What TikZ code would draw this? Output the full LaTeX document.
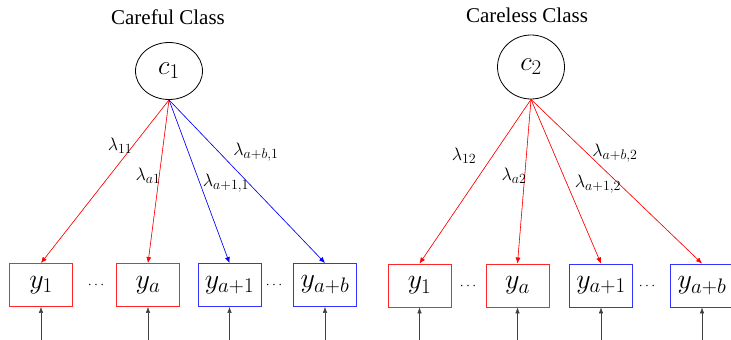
\documentclass[tikz,border=0pt]{standalone}
\usepackage{fix-cm}
\usepackage{fontspec}
\setmainfont{Liberation Serif}
\DeclareMathSizes{18}{18}{14}{11}
\DeclareMathSizes{28}{28}{21}{16}
\DeclareMathSizes{27}{27}{21}{16}
\usetikzlibrary{shapes.geometric,arrows.meta}
\definecolor{myred}{RGB}{255,0,0}
\definecolor{myblue}{RGB}{0,0,255}
\begin{document}
\begin{tikzpicture}[x=1pt,y=-1pt,
  latent/.style={draw=black,ellipse,line width=0.8pt,inner sep=0pt,minimum width=67pt},
  obsbox/.style={draw,line width=0.9pt,minimum width=63pt,minimum height=43pt,inner sep=0pt,font=\fontsize{28}{30}\selectfont},
  redbox/.style={obsbox,draw=myred!85},
  bluebox/.style={obsbox,draw=myblue!80},
  load/.style={line width=0.6pt,-{Latex[length=6pt,width=5pt]}},
  redarr/.style={load,draw=myred,fill=myred},
  bluearr/.style={load,draw=myblue,fill=myblue},
  errarr/.style={line width=0.5pt,draw=black!75,-{Latex[length=6pt,width=4.5pt]}},
  lab/.style={inner sep=0pt,font=\fontsize{18}{20}\selectfont},
  title/.style={inner sep=0pt,font=\fontsize{21}{23}\selectfont},
  dots/.style={inner sep=0pt,font=\fontsize{14}{16}\selectfont}
]
\useasboundingbox (0,0) rectangle (731,340);
% titles
\node[title] (t1) at (168,17) {Careful Class};
\node[title] (t2) at (527,15) {Careless Class};
% latent nodes
\node[latent,minimum height=57pt] (c1) at (169,71) {\fontsize{27}{29}\selectfont$c_1$};
\node[latent,minimum height=64pt] (c2) at (531,67) {\fontsize{27}{29}\selectfont$c_2$};
% left boxes
\node[redbox] (l1) at (41,285) {$y_1$};
\node[redbox] (la) at (148,285) {$y_a$};
\node[bluebox] (lb) at (229.5,285) {$y_{a+1}$};
\node[bluebox] (lc) at (325,285) {$y_{a+b}$};
\node[dots] (ld1) at (96,285) {$\cdots$};
\node[dots] (ld2) at (274,285) {$\cdots$};
% right boxes
\node[redbox] (r1) at (419.5,285.5) {$y_1$};
\node[redbox] (ra) at (517.5,285.5) {$y_a$};
\node[bluebox] (rb) at (601,285.5) {$y_{a+1}$};
\node[bluebox] (rc) at (702,285.5) {$y_{a+b}$};
\node[dots] (rd1) at (468,286) {$\cdots$};
\node[dots] (rd2) at (647,286) {$\cdots$};
% loadings left
\draw[redarr] (c1.south) -- (l1.north);
\draw[redarr] (c1.south) -- (la.north);
\draw[bluearr] (c1.south) -- (lb.north);
\draw[bluearr] (c1.south) -- (lc.north);
% loadings right
\draw[redarr] (c2.south) -- (r1.north);
\draw[redarr] (c2.south) -- (ra.north);
\draw[redarr] (c2.south) -- (rb.north);
\draw[redarr] (c2.south) -- (rc.north);
% labels
\node[lab] (ll1) at (120,146) {$\lambda_{11}$};
\node[lab] (lla) at (148,176) {$\lambda_{a1}$};
\node[lab] (llb) at (226,183) {$\lambda_{a+1,1}$};
\node[lab] (llc) at (256,152) {$\lambda_{a+b,1}$};
\node[lab] (rl1) at (464,156) {$\lambda_{12}$};
\node[lab] (rla) at (514,176) {$\lambda_{a2}$};
\node[lab] (rlb) at (598,184) {$\lambda_{a+1,2}$};
\node[lab] (rlc) at (615,153) {$\lambda_{a+b,2}$};
% error arrows
\foreach \n/\x in {l1/41,la/148,lb/229.5,lc/325,r1/419.5,ra/517.5,rb/601,rc/702}{
  \coordinate (e\n) at (\x,340);
  \draw[errarr] (e\n) -- (\n.south);
}
\end{tikzpicture}
\end{document}
